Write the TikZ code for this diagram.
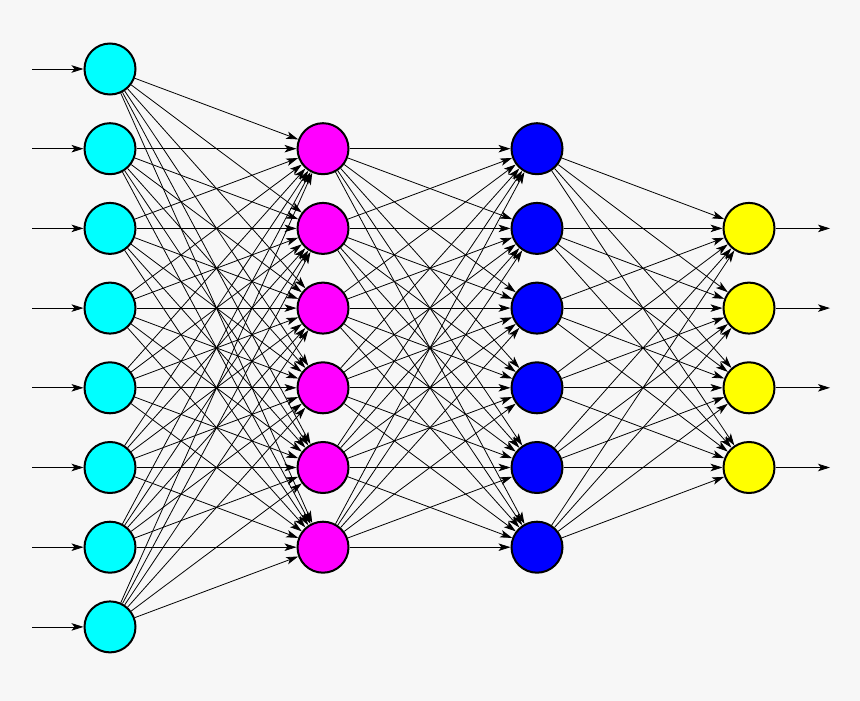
\documentclass[tikz,border=0pt]{standalone}
\usetikzlibrary{arrows.meta}
\definecolor{bgcolor}{HTML}{F7F7F7}
\definecolor{inputcolor}{HTML}{00FFFF}
\definecolor{hiddenAcolor}{HTML}{FF00FF}
\definecolor{hiddenBcolor}{HTML}{0000FF}
\definecolor{outputcolor}{HTML}{FFFF00}
\tikzset{
  neuron/.style = {circle, draw = black, line width = 2pt,
                   minimum size = 51pt, inner sep = 0pt},
  EdgeStyle/.style = {-{Stealth[length=12pt,width=7.5pt,inset=3pt]},
                      line width = 0.8pt}
}

\begin{document}
\begin{tikzpicture}[x=1pt,y=-1pt]
	\fill[bgcolor] (0,0) rectangle (860,701);
	\useasboundingbox (0,0) rectangle (860,701);
	% neurons
	\foreach \i in {1,...,8}
		\node[neuron, fill=inputcolor] (I\i) at (110,{69+79.7*(\i-1)}) {};
	\foreach \i in {2,...,7}
		\node[neuron, fill=hiddenAcolor] (H\i) at (323,{69+79.7*(\i-1)}) {};
	\foreach \i in {2,...,7}
		\node[neuron, fill=hiddenBcolor] (K\i) at (537,{69+79.7*(\i-1)}) {};
	\foreach \i in {3,...,6}
		\node[neuron, fill=outputcolor] (O\i) at (749,{69+79.7*(\i-1)}) {};
	% inputs and outputs
	\foreach \i in {1,...,8} {
		\coordinate (in\i) at (32,{69+79.7*(\i-1)});
		\draw[EdgeStyle] (in\i) -- (I\i);
	}
	\foreach \i in {3,...,6} {
		\coordinate (out\i) at (830,{69+79.7*(\i-1)});
		\draw[EdgeStyle] (O\i) -- (out\i);
	}
	% connections
	\foreach \i in {1,...,8}
		\foreach \j in {2,...,7}
			\draw[EdgeStyle] (I\i) -- (H\j);
	\foreach \i in {2,...,7}
		\foreach \j in {2,...,7}
			\draw[EdgeStyle] (H\i) -- (K\j);
	\foreach \i in {2,...,7}
		\foreach \j in {3,...,6}
			\draw[EdgeStyle] (K\i) -- (O\j);
\end{tikzpicture}
\end{document}
